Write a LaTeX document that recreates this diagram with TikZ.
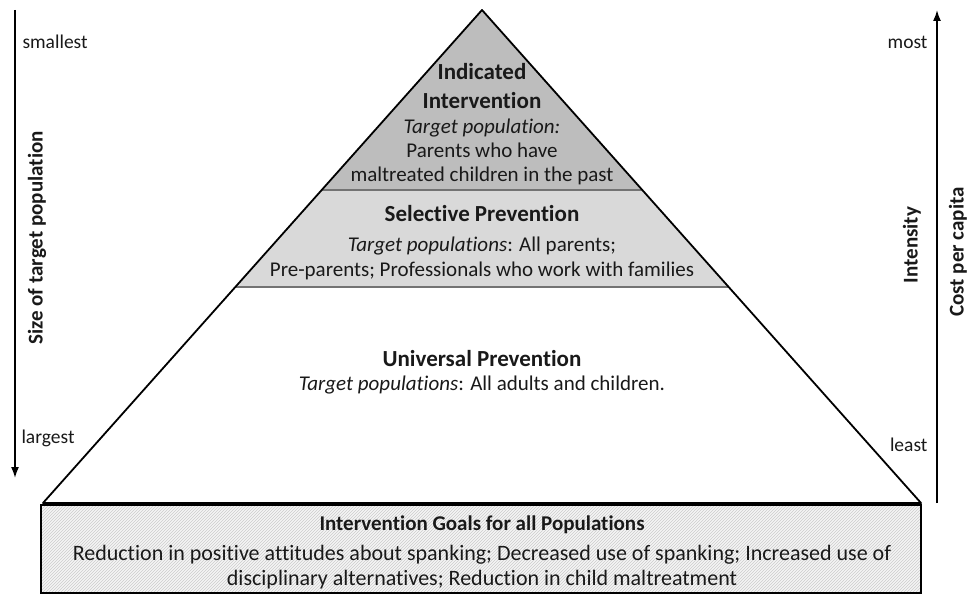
\documentclass[tikz,border=0pt]{standalone}
\usepackage{fontspec}
\setmainfont{Carlito}[Ligatures=NoCommon]
\usepackage{tikz}
\usetikzlibrary{positioning,calc,arrows.meta,patterns}

\tikzset{
  level/.style={align=center, font=\fontsize{21}{24}\selectfont, text=black!90},
  sidetext/.style={font=\fontsize{19.5}{22}\selectfont, text=black!90},
  axislabel/.style={rotate=90, font=\fontsize{21}{24}\selectfont\bfseries, text=black!90},
  axis/.style={line width=1.6pt, -{Latex[length=11pt,width=8pt]}}
}
\newcommand{\ttl}[1]{{\fontsize{23}{28}\selectfont\bfseries #1}}

\begin{document}
\begin{tikzpicture}[x=1pt, y=-1pt]
  \useasboundingbox (0,0) rectangle (969,599);

  % Pyramid corners
  \coordinate (apex) at (482, 10);
  \coordinate (baseL) at (43, 503);
  \coordinate (baseR) at (921, 503);
  \coordinate (indL) at ($(apex)!0.3651!(baseL)$);
  \coordinate (indR) at ($(apex)!0.3651!(baseR)$);
  \coordinate (selL) at ($(apex)!0.5619!(baseL)$);
  \coordinate (selR) at ($(apex)!0.5619!(baseR)$);

  % Tiers
  \fill[black!26] (apex) -- (indL) -- (indR) -- cycle;
  \fill[black!15] (indL) -- (selL) -- (selR) -- (indR) -- cycle;
  \draw[black!55, line width=1.2pt] (indL) -- (indR);
  \draw[black!55, line width=1.2pt] (selL) -- (selR);
  \draw[line width=1.8pt, line join=round] (apex) -- (baseL) -- (baseR) -- cycle;

  % Goals box (hatched)
  \fill[black!4] (41, 505) rectangle (921, 593);
  \fill[pattern=north east lines, pattern color=black!20] (41, 505) rectangle (921, 593);
  \draw[line width=1.8pt] (41, 505) rectangle (921, 593);

  % Tier texts
  \node[level] (indicated) at (482, 124) {\ttl{Indicated}\\[5pt] \ttl{Intervention}\\[1pt]
    \textit{Target population:}\\ Parents who have\\ maltreated children in the past};
  \node[level] (selective) at (482, 243) {\ttl{Selective Prevention}\\[6pt]
    \textit{Target populations}: All parents;\\[1pt] Pre-parents; Professionals who work with families};
  \node[level] (universal) at (482, 372) {\ttl{Universal Prevention}\\
    \textit{Target populations}: All adults and children.};
  \node[level, font=\fontsize{22}{25}\selectfont] (goals) at (482, 552) {{\fontsize{21}{26}\selectfont\bfseries Intervention Goals for all Populations}\\[5pt]
    Reduction in positive attitudes about spanking; Decreased use of spanking; Increased use of\\
    disciplinary alternatives; Reduction in child maltreatment};

  % Left axis
  \coordinate (sizetop) at (15, 10);
  \coordinate (sizebot) at (15, 478);
  \draw[axis] (sizetop) -- (sizebot);
  \node[sidetext, anchor=west] (smallest) at (19, 42) {smallest};
  \node[sidetext, anchor=west] (largest) at (18, 438) {largest};
  \node[axislabel] (sizelbl) at (37, 238) {Size of target population};

  % Right axis
  \coordinate (costbot) at (937, 503);
  \coordinate (costtop) at (937, 10);
  \draw[axis] (costbot) -- (costtop);
  \node[sidetext, anchor=east] (most) at (931, 42) {most};
  \node[sidetext, anchor=east] (least) at (931, 445) {least};
  \node[axislabel] (intensity) at (912, 245) {Intensity};
  \node[axislabel] (cost) at (958, 252) {Cost per capita};
\end{tikzpicture}
\end{document}
